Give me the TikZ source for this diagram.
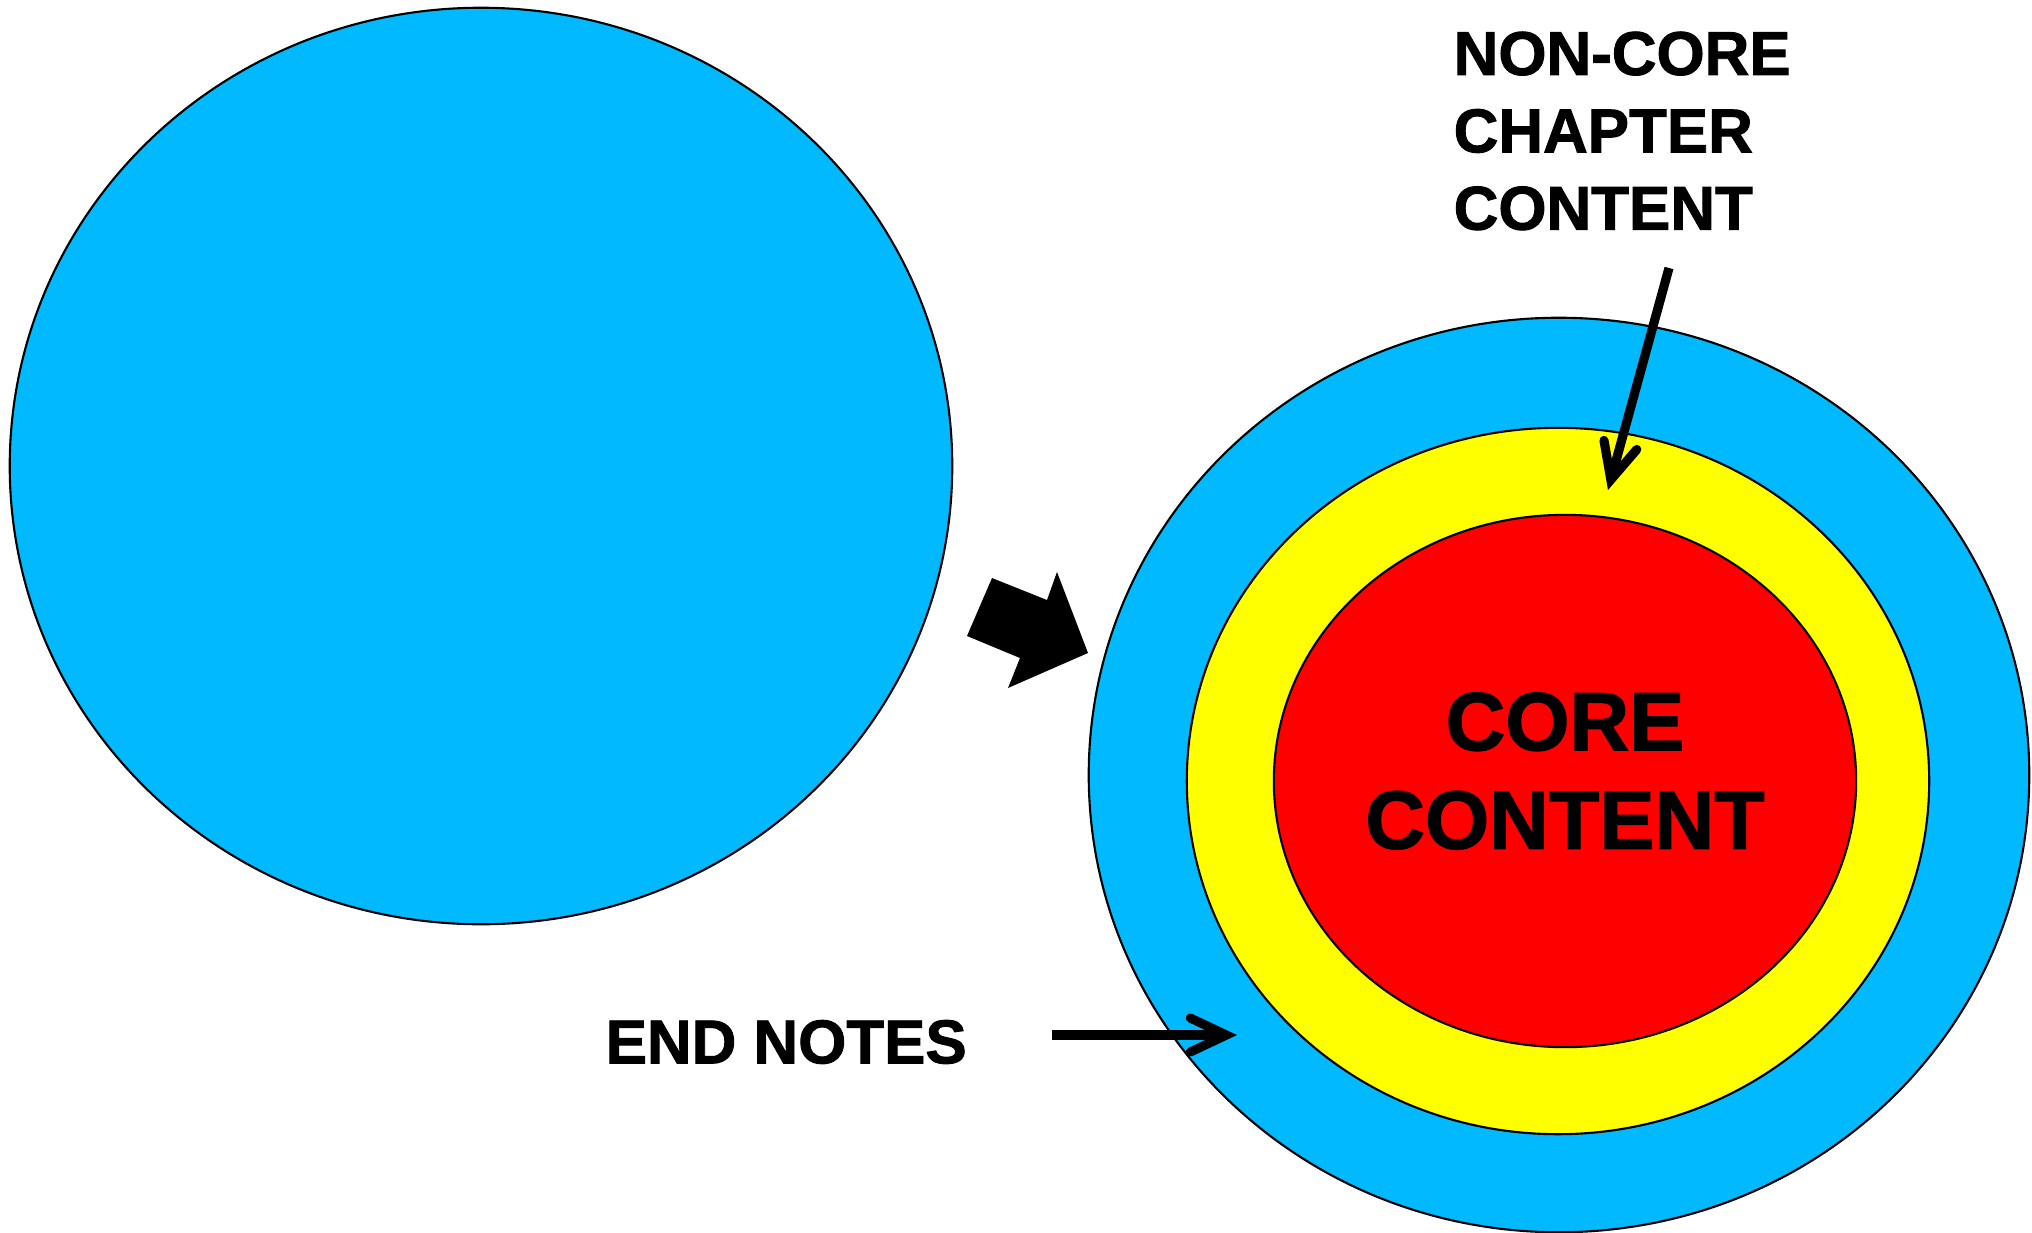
\documentclass[tikz,border=0pt]{standalone}
\usepackage{fontspec}
\setmainfont{Liberation Sans}[BoldFont={Liberation Sans Bold}, BoldFeatures={FakeBold=1.5}]
\usepackage{xcolor}
\definecolor{outerblue}{HTML}{00B9FF}
\definecolor{middleyellow}{HTML}{FFFF00}
\definecolor{corered}{HTML}{FF0000}
\usetikzlibrary{arrows.meta, shapes.geometric, positioning}

\begin{document}
\begin{tikzpicture}[x=0.01cm, y=-0.01cm, font=\bfseries,
    ring/.style={ellipse, draw=black, line width=0.6pt, inner sep=0pt},
    pointer/.style={-{Straight Barb[length=3.6mm, width=3.4mm, line cap=round]},
                    line width=2.6pt},
    tagtext/.style={inner sep=0pt, font=\bfseries\fontsize{17.6}{22}\selectfont}]
  \useasboundingbox (0,0) rectangle (2032,1233);

  % before
  \node[ring, fill=outerblue, minimum width=9.42cm, minimum height=9.16cm]
        (whole) at (481,466) {};

  % after
  \node[ring, fill=outerblue, minimum width=9.40cm, minimum height=9.14cm]
        (outer) at (1559,775) {};
  \node[ring, fill=middleyellow, minimum width=7.42cm, minimum height=7.06cm]
        (middle) at (1558,781) {};
  \node[ring, fill=corered, minimum width=5.82cm, minimum height=5.32cm]
        (core) at (1565,781) {};

  \node[align=center, inner sep=0pt, font=\bfseries\fontsize{23.5}{28}\selectfont]
        (coretext) at (1565,771) {CORE\\CONTENT};

  % block arrow between the two
  \fill[black] (967,636) -- (992,578) -- (1047,600) -- (1057,572)
        -- (1088,653) -- (1008,688) -- (1020,658) -- cycle;

  \node[tagtext, align=left, anchor=north west] (noncore) at (1453,31)
        {NON-CORE\\CHAPTER\\CONTENT};
  \node[tagtext, anchor=west] (endnotes) at (605,1042) {END NOTES};

  \coordinate (ncstart) at (1669,268);
  \coordinate (nctip) at (1608,490);
  \coordinate (enstart) at (1052,1035);
  \coordinate (entip) at (1237,1035);

  \draw[pointer] (ncstart) -- (nctip);
  \draw[pointer] (enstart) -- (entip);
\end{tikzpicture}
\end{document}
